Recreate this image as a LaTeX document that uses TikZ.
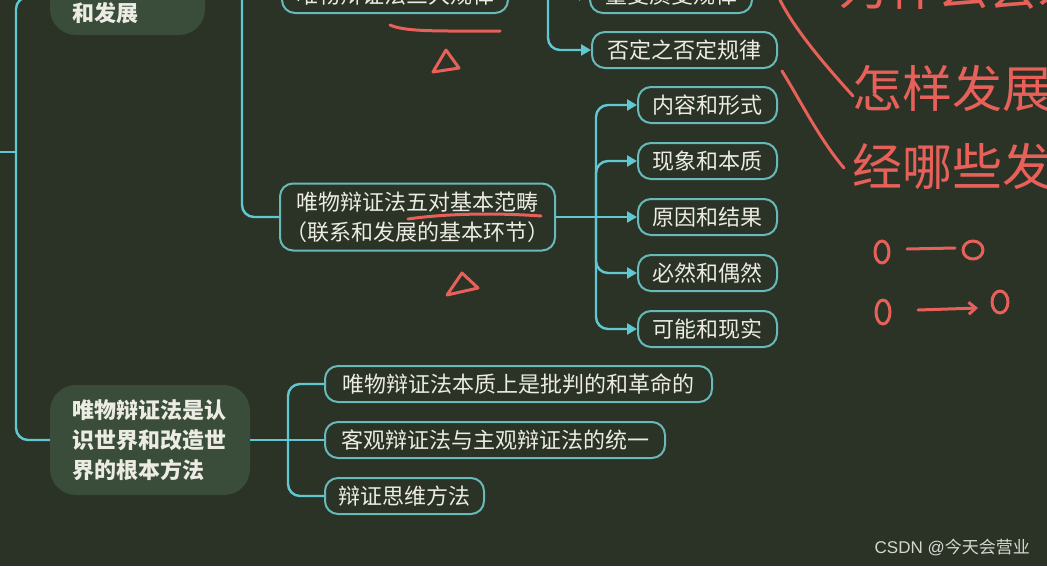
\documentclass[tikz,border=0pt]{standalone}
\usepackage{fontspec}
\setmainfont{Noto Sans CJK SC}
\newfontfamily\cjk{Noto Sans CJK SC}
\newfontfamily\latinsans{Liberation Sans}
\usetikzlibrary{arrows.meta,positioning,calc}
\definecolor{BoardBg}{RGB}{42,51,38}
\definecolor{HubFill}{RGB}{58,77,58}
\definecolor{WireCyan}{RGB}{96,200,210}
\definecolor{BoxLine}{RGB}{104,186,186}
\definecolor{ChalkWhite}{RGB}{236,236,228}
\definecolor{InkRed}{RGB}{232,96,90}
\definecolor{MarkGray}{RGB}{215,215,210}

\begin{document}
\begin{tikzpicture}[x=1pt,y=-1pt,
  wire/.style={WireCyan,line width=2.4pt,rounded corners=12pt},
  arrowed/.style={-{Triangle[length=10pt,width=11pt]}},
  leaf/.style={draw=BoxLine,line width=2pt,fill=BoardBg,rounded corners=13pt,
    text=ChalkWhite,font=\cjk\fontsize{22}{30}\selectfont,minimum height=36pt,
    inner xsep=0pt,inner ysep=0pt,align=center},
  hub/.style={fill=HubFill,rounded corners=26pt,text=ChalkWhite,
    font=\cjk\bfseries\fontsize{22}{30}\selectfont,align=left,inner xsep=22pt,inner ysep=0pt},
  ink/.style={InkRed,line width=3pt,line cap=round,line join=round},
  scrawl/.style={text=InkRed,font=\cjk\fontsize{50}{50}\selectfont,inner sep=0pt}]
\useasboundingbox (0,0) rectangle (1047,566);
\fill[BoardBg] (0,0) rectangle (1047,566);

% hubs
\node[hub,text width=111pt,minimum height=76pt] (ndev) at (127.5,-3) {\mbox{}\\[22pt]和发展};
\node[hub,text width=156pt,minimum height=110pt] (nmethod) at (150,440)
  {唯物辩证法是认\\识世界和改造世\\界的根本方法};

% laws and categories
\node[leaf,minimum width=226pt] (nlaws) at (395,-5) {唯物辩证法三大规律};
\node[leaf,minimum width=162pt] (nqq) at (671,-5) {量变质变规律};
\node[leaf,minimum width=185pt] (nneg) at (684.5,50) {否定之否定规律};
\node[leaf,minimum width=275pt,minimum height=67pt] (ncat) at (417.5,217)
  {唯物辩证法五对基本范畴\\（联系和发展的基本环节）};
\foreach \txt [count=\i] in {内容和形式,现象和本质,原因和结果,必然和偶然,可能和现实}
  \node[leaf,minimum width=139pt] (cat\i) at (707.5,{49+56*\i}) {\txt};

% method leaves
\node[leaf,minimum width=387pt] (nm1) at (518.5,384) {唯物辩证法本质上是批判的和革命的};
\node[leaf,minimum width=340pt] (nm2) at (495,440) {客观辩证法与主观辩证法的统一};
\node[leaf,minimum width=159pt] (nm3) at (404.5,496) {辩证思维方法};

% connectors
\coordinate (root) at (0,152);
\coordinate (trunk) at (16,152);
\coordinate (j1) at (242,-5);
\coordinate (j2) at (548,-5);
\coordinate (j3) at (596,217);
\coordinate (j4) at (288,440);
\draw[wire] (root) -- (trunk);
\draw[wire] (trunk) |- (ndev.west);
\draw[wire] (trunk) |- (nmethod.west);
\draw[wire] (ndev.east) -- (j1) -- (nlaws.west);
\draw[wire] (j1) |- (ncat.west);
\draw[wire,arrowed] (nlaws.east) -- (nqq.west);
\draw[wire,arrowed] (j2) |- (nneg.west);
\draw[wire,arrowed] (ncat.east) -- (cat3.west);
\foreach \i in {1,2,4,5}
  \draw[wire,arrowed] (j3) |- (cat\i.west);
\draw[wire] (nmethod.east) -- (nm2.west);
\draw[wire] (j4) |- (nm1.west);
\draw[wire] (j4) |- (nm3.west);

% red notes
\draw[ink] (390,25) .. controls (405,32) and (440,31) .. (500,31);
\draw[ink] (446,50) -- (433,72) -- (459,68) -- cycle;
\draw[ink] (408,219) .. controls (450,213) and (500,213) .. (541,216);
\draw[ink] (462,273) -- (447,295) -- (478,288) -- cycle;
\draw[ink] (780,0) .. controls (795,30) and (825,65) .. (853,96);
\draw[ink] (782,71) .. controls (800,100) and (820,140) .. (844,168);
\node[scrawl,anchor=west] (hw1) at (838,-14) {为什么会发展};
\node[scrawl,anchor=west] (hw2) at (852,88) {怎样发展};
\node[scrawl,anchor=west] (hw3) at (852,166) {经哪些发展};
\draw[ink] (882,252) ellipse [x radius=7,y radius=11];
\draw[ink] (907,249) -- (955,248);
\draw[ink] (973,250) ellipse [x radius=10,y radius=9];
\draw[ink] (883,312) ellipse [x radius=7,y radius=12];
\draw[ink,-{Straight Barb[length=7pt,width=12pt]}] (918,310) -- (978,308);
\draw[ink] (1000,302) ellipse [x radius=8,y radius=11];

% watermark
\node[text=MarkGray,font=\latinsans\fontsize{17}{20}\selectfont,anchor=east,inner sep=0pt]
  (csdn) at (1030,547) {CSDN @{\cjk 今天会营业}};
\end{tikzpicture}
\end{document}
